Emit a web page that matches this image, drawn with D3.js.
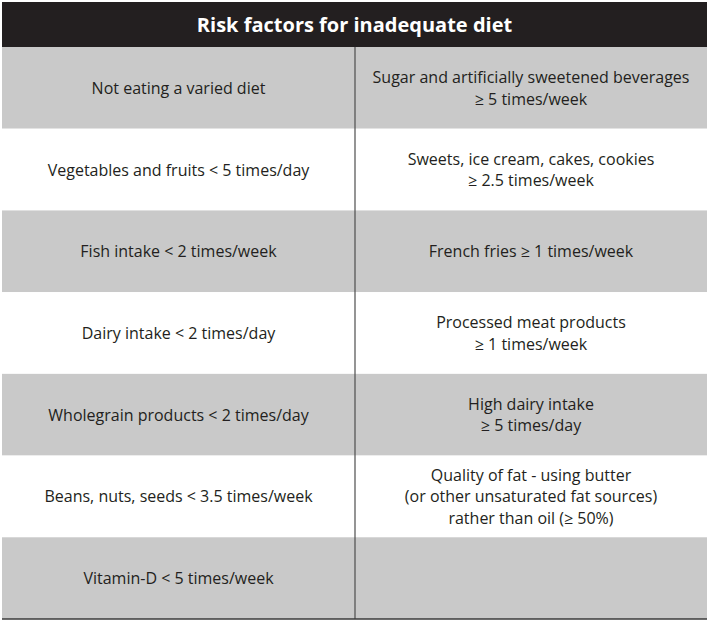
<!DOCTYPE html>
<html lang="en">
<head>
    <meta charset="UTF-8">
    <title>Risk factors for inadequate diet</title>
    <script src="https://d3js.org/d3.v7.min.js"></script>
    <style>
        body { margin: 0; background: #fff; }
        text { font-family: "Open Sans", "Noto Sans", sans-serif; fill: #231f20; }
    </style>
</head>
<body>
<div id="chart"></div>
<script>
    var title = "Risk factors for inadequate diet";

    // left and right column, one entry per row (lines split by \n)
    var leftCol = [
        "Not eating a varied diet",
        "Vegetables and fruits < 5 times/day",
        "Fish intake < 2 times/week",
        "Dairy intake < 2 times/day",
        "Wholegrain products < 2 times/day",
        "Beans, nuts, seeds < 3.5 times/week",
        "Vitamin-D < 5 times/week"
    ];
    var rightCol = [
        "Sugar and artificially sweetened beverages\n≥ 5 times/week",
        "Sweets, ice cream, cakes, cookies\n≥ 2.5 times/week",
        "French fries ≥ 1 times/week",
        "Processed meat products\n≥ 1 times/week",
        "High dairy intake\n≥ 5 times/day",
        "Quality of fat - using butter\n(or other unsaturated fat sources)\nrather than oil (≥ 50%)",
        ""
    ];

    var width = 709, height = 622;
    var left = 2, right = 707, headTop = 2, headBottom = 47, bottom = 619, split = 355;

    var svg = d3.select("#chart").append("svg")
        .attr("width", width).attr("height", height);

    var rows = d3.range(leftCol.length);
    var y = d3.scaleBand().domain(rows).range([headBottom, bottom]).padding(0);

    // header bar
    svg.append("rect")
        .attr("x", left).attr("y", headTop)
        .attr("width", right - left).attr("height", headBottom - headTop)
        .attr("fill", "#231f20");
    svg.append("text")
        .attr("x", (left + right) / 2).attr("y", (headTop + headBottom) / 2)
        .attr("text-anchor", "middle").attr("dominant-baseline", "central")
        .style("font-size", "20px").style("font-weight", "bold")
        .style("fill", "#fff")
        .text(title);

    // row backgrounds
    svg.selectAll("rect.row").data(rows).enter().append("rect")
        .attr("class", "row")
        .attr("x", left).attr("y", function (d) { return y(d); })
        .attr("width", right - left).attr("height", y.bandwidth())
        .attr("fill", function (d) { return d % 2 == 0 ? "#c9c9c9" : "#fff"; });

    // divider + bottom rule
    svg.append("line")
        .attr("x1", split).attr("x2", split).attr("y1", headBottom).attr("y2", bottom)
        .attr("stroke", "#4d4d4d").attr("stroke-width", 1.2);
    svg.append("line")
        .attr("x1", left).attr("x2", right).attr("y1", bottom).attr("y2", bottom)
        .attr("stroke", "#3a3a3a").attr("stroke-width", 1.5);

    var lineH = 21.5;
    function cellText(data, cx) {
        svg.selectAll(null).data(data).enter().append("text")
            .attr("text-anchor", "middle")
            .style("font-size", "16px")
            .each(function (d, i) {
                var lines = d ? d.split("\n") : [];
                var mid = y(i) + y.bandwidth() / 2;
                var t = d3.select(this);
                lines.forEach(function (l, k) {
                    t.append("tspan")
                        .attr("x", cx)
                        .attr("y", mid + (k - (lines.length - 1) / 2) * lineH)
                        .attr("dominant-baseline", "central")
                        .text(l);
                });
            });
    }
    cellText(leftCol, (left + split) / 2);
    cellText(rightCol, (split + right) / 2);
</script>
</body>
</html>
